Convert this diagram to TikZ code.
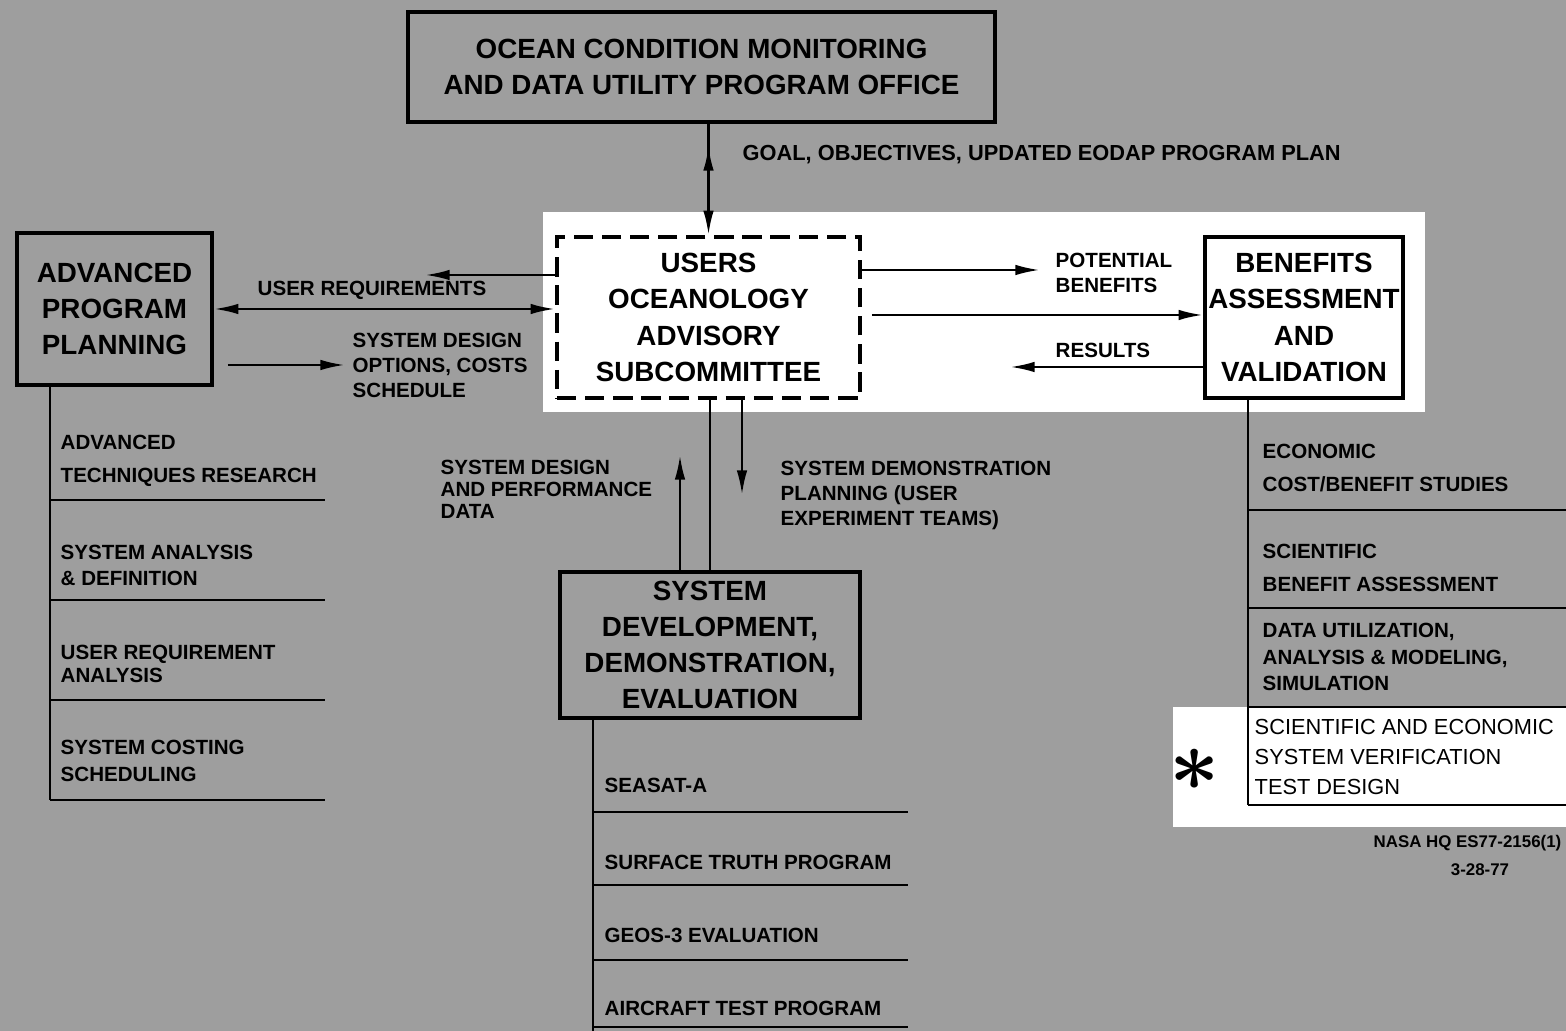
\documentclass[tikz,border=0pt]{standalone}
\usepackage{fontspec}
\setmainfont{Liberation Sans}
\definecolor{htgray}{RGB}{158,158,158}
\usetikzlibrary{arrows.meta,decorations.markings}
\newcommand\boxfont{\fontsize{7.9}{10.3}\selectfont\bfseries}
\newcommand\itemfont[1]{\fontsize{5.85}{#1}\selectfont\bfseries}
\tikzset{
  >={Latex[length=7pt,width=3pt]},
  mainbox/.style={draw,line width=1pt,align=center,font=\boxfont,inner sep=0pt},
  arr/.style={line width=0.75pt,->},
  listline/.style={line width=0.7pt},
  item/.style={font=\itemfont{#1},align=left,anchor=west,inner sep=0pt},
  item/.default=9.4,
  lbl/.style={font=\itemfont{7.1},align=left,anchor=west,inner sep=0pt}
}

\begin{document}
\begin{tikzpicture}[x=0.01cm,y=-0.01cm]
  \useasboundingbox (0,0) rectangle (1566,1031);
  \fill[htgray] (0,0) rectangle (1566,1031);
  \fill[white] (543,212) rectangle (1425,412);
  \fill[white] (1173,707) rectangle (1566,827);

  \node[mainbox,minimum width=5.87cm,minimum height=1.10cm] (office) at (701.5,67)
        {OCEAN CONDITION MONITORING\\AND DATA UTILITY PROGRAM OFFICE};
  \node[mainbox,dash pattern=on 5.5pt off 2.5pt,minimum width=3.03cm,minimum height=1.61cm] (users) at (708.5,317.5)
        {USERS\\OCEANOLOGY\\ADVISORY\\SUBCOMMITTEE};
  \node[mainbox,minimum width=1.95cm,minimum height=1.52cm] (advanced) at (114.5,309)
        {ADVANCED\\PROGRAM\\PLANNING};
  \node[mainbox,minimum width=1.98cm,minimum height=1.61cm] (benefits) at (1304,317.5)
        {BENEFITS\\ASSESSMENT\\AND\\VALIDATION};
  \node[mainbox,minimum width=3.00cm,minimum height=1.46cm] (sysdev) at (710,645)
        {SYSTEM\\DEVELOPMENT,\\DEMONSTRATION,\\EVALUATION};

  \draw[arr,postaction={decorate},decoration={markings,mark=at position 0.2 with {\arrowreversed{>}}}]
        (users.north |- office.south) -- (users.north);
  \node[lbl,font=\itemfont{7.1}\fontsize{6.2}{7.1}\selectfont] (goal) at (742,155) {GOAL, OBJECTIVES, UPDATED EODAP PROGRAM PLAN};

  \coordinate (uleft) at (425,275);
  \draw[arr] (users.west |- uleft) -- (uleft);
  \draw[line width=0.75pt,<->] (advanced.east) -- (advanced.east -| users.west);
  \node[lbl,anchor=center] (ureq) at (372,290) {USER REQUIREMENTS};
  \coordinate (sdo) at (345,365);
  \draw[arr,shorten <=0.14cm] (advanced.east |- sdo) -- (sdo);
  \node[lbl] (options) at (352,365) {SYSTEM DESIGN\\OPTIONS, COSTS\\SCHEDULE};

  \coordinate (pot) at (1040,270);
  \draw[arr] (users.east |- pot) -- (pot);
  \node[lbl] (potential) at (1055,273) {POTENTIAL\\BENEFITS};
  \coordinate (ub) at (1000,315);
  \draw[arr,shorten <=0.1cm] (users.east |- ub) -- (benefits.west |- ub);
  \coordinate (res) at (1010,367);
  \draw[arr] (benefits.west |- res) -- (res);
  \node[lbl] (results) at (1055,350) {RESULTS};

  \draw[line width=0.75pt] (sysdev.north) -- (sysdev.north |- users.south);
  \coordinate (sdup) at (680,455);
  \draw[arr] (sysdev.north -| sdup) -- (sdup);
  \coordinate (sddown) at (742,495);
  \draw[arr] (users.south -| sddown) -- (sddown);
  \node[lbl,font=\itemfont{6.3}] (perf) at (440,489) {SYSTEM DESIGN\\AND PERFORMANCE\\DATA};
  \node[lbl] (demo) at (780,495) {SYSTEM DEMONSTRATION\\PLANNING (USER\\EXPERIMENT TEAMS)};

  \coordinate (lA) at (50,800);
  \draw[listline] (advanced.south -| lA) -- (lA);
  \foreach \y in {500,600,700,800}
    \draw[listline] (50,\y) -- (325,\y);
  \node[item] (ltech) at (60,461) {ADVANCED\\TECHNIQUES RESEARCH};
  \node[item=7.4] (lsys) at (60,565) {SYSTEM ANALYSIS\\\& DEFINITION};
  \node[item=6.5] (luser) at (60,664) {USER REQUIREMENT\\ANALYSIS};
  \node[item=7.7] (lcost) at (60,761) {SYSTEM COSTING\\SCHEDULING};

  \coordinate (rA) at (1248,805);
  \draw[listline] (benefits.south -| rA) -- (rA);
  \foreach \y in {510,608,707,805}
    \draw[listline] (1248,\y) -- (1566,\y);
  \node[item] (recon) at (1262,468) {ECONOMIC\\COST/BENEFIT STUDIES};
  \node[item] (rsci) at (1262,568) {SCIENTIFIC\\BENEFIT ASSESSMENT};
  \node[item=7.5] (rdata) at (1262,657) {DATA UTILIZATION,\\ANALYSIS \& MODELING,\\SIMULATION};
  \node[item,font=\fontsize{6.2}{8.4}\selectfont] (rver) at (1254,757) {SCIENTIFIC AND ECONOMIC\\SYSTEM VERIFICATION\\TEST DESIGN};
  \node[font=\fontsize{46}{46}\selectfont\boldmath] (star) at (1195,770) {$\ast$};
  \node[font=\fontsize{4.8}{6}\selectfont\bfseries,anchor=east,inner sep=0pt] (nasa) at (1562,843) {NASA HQ ES77-2156(1)};
  \node[font=\fontsize{4.8}{6}\selectfont\bfseries,inner sep=0pt] (date) at (1480,870) {3-28-77};

  \coordinate (bA) at (593,1031);
  \draw[listline] (sysdev.south -| bA) -- (bA);
  \foreach \y in {812,885,960,1027}
    \draw[listline] (593,\y) -- (908,\y);
  \node[item] (bsea) at (604,785) {SEASAT-A};
  \node[item] (bsurf) at (604,862) {SURFACE TRUTH PROGRAM};
  \node[item] (bgeos) at (604,935) {GEOS-3 EVALUATION};
  \node[item] (bair) at (604,1008) {AIRCRAFT TEST PROGRAM};
\end{tikzpicture}
\end{document}
